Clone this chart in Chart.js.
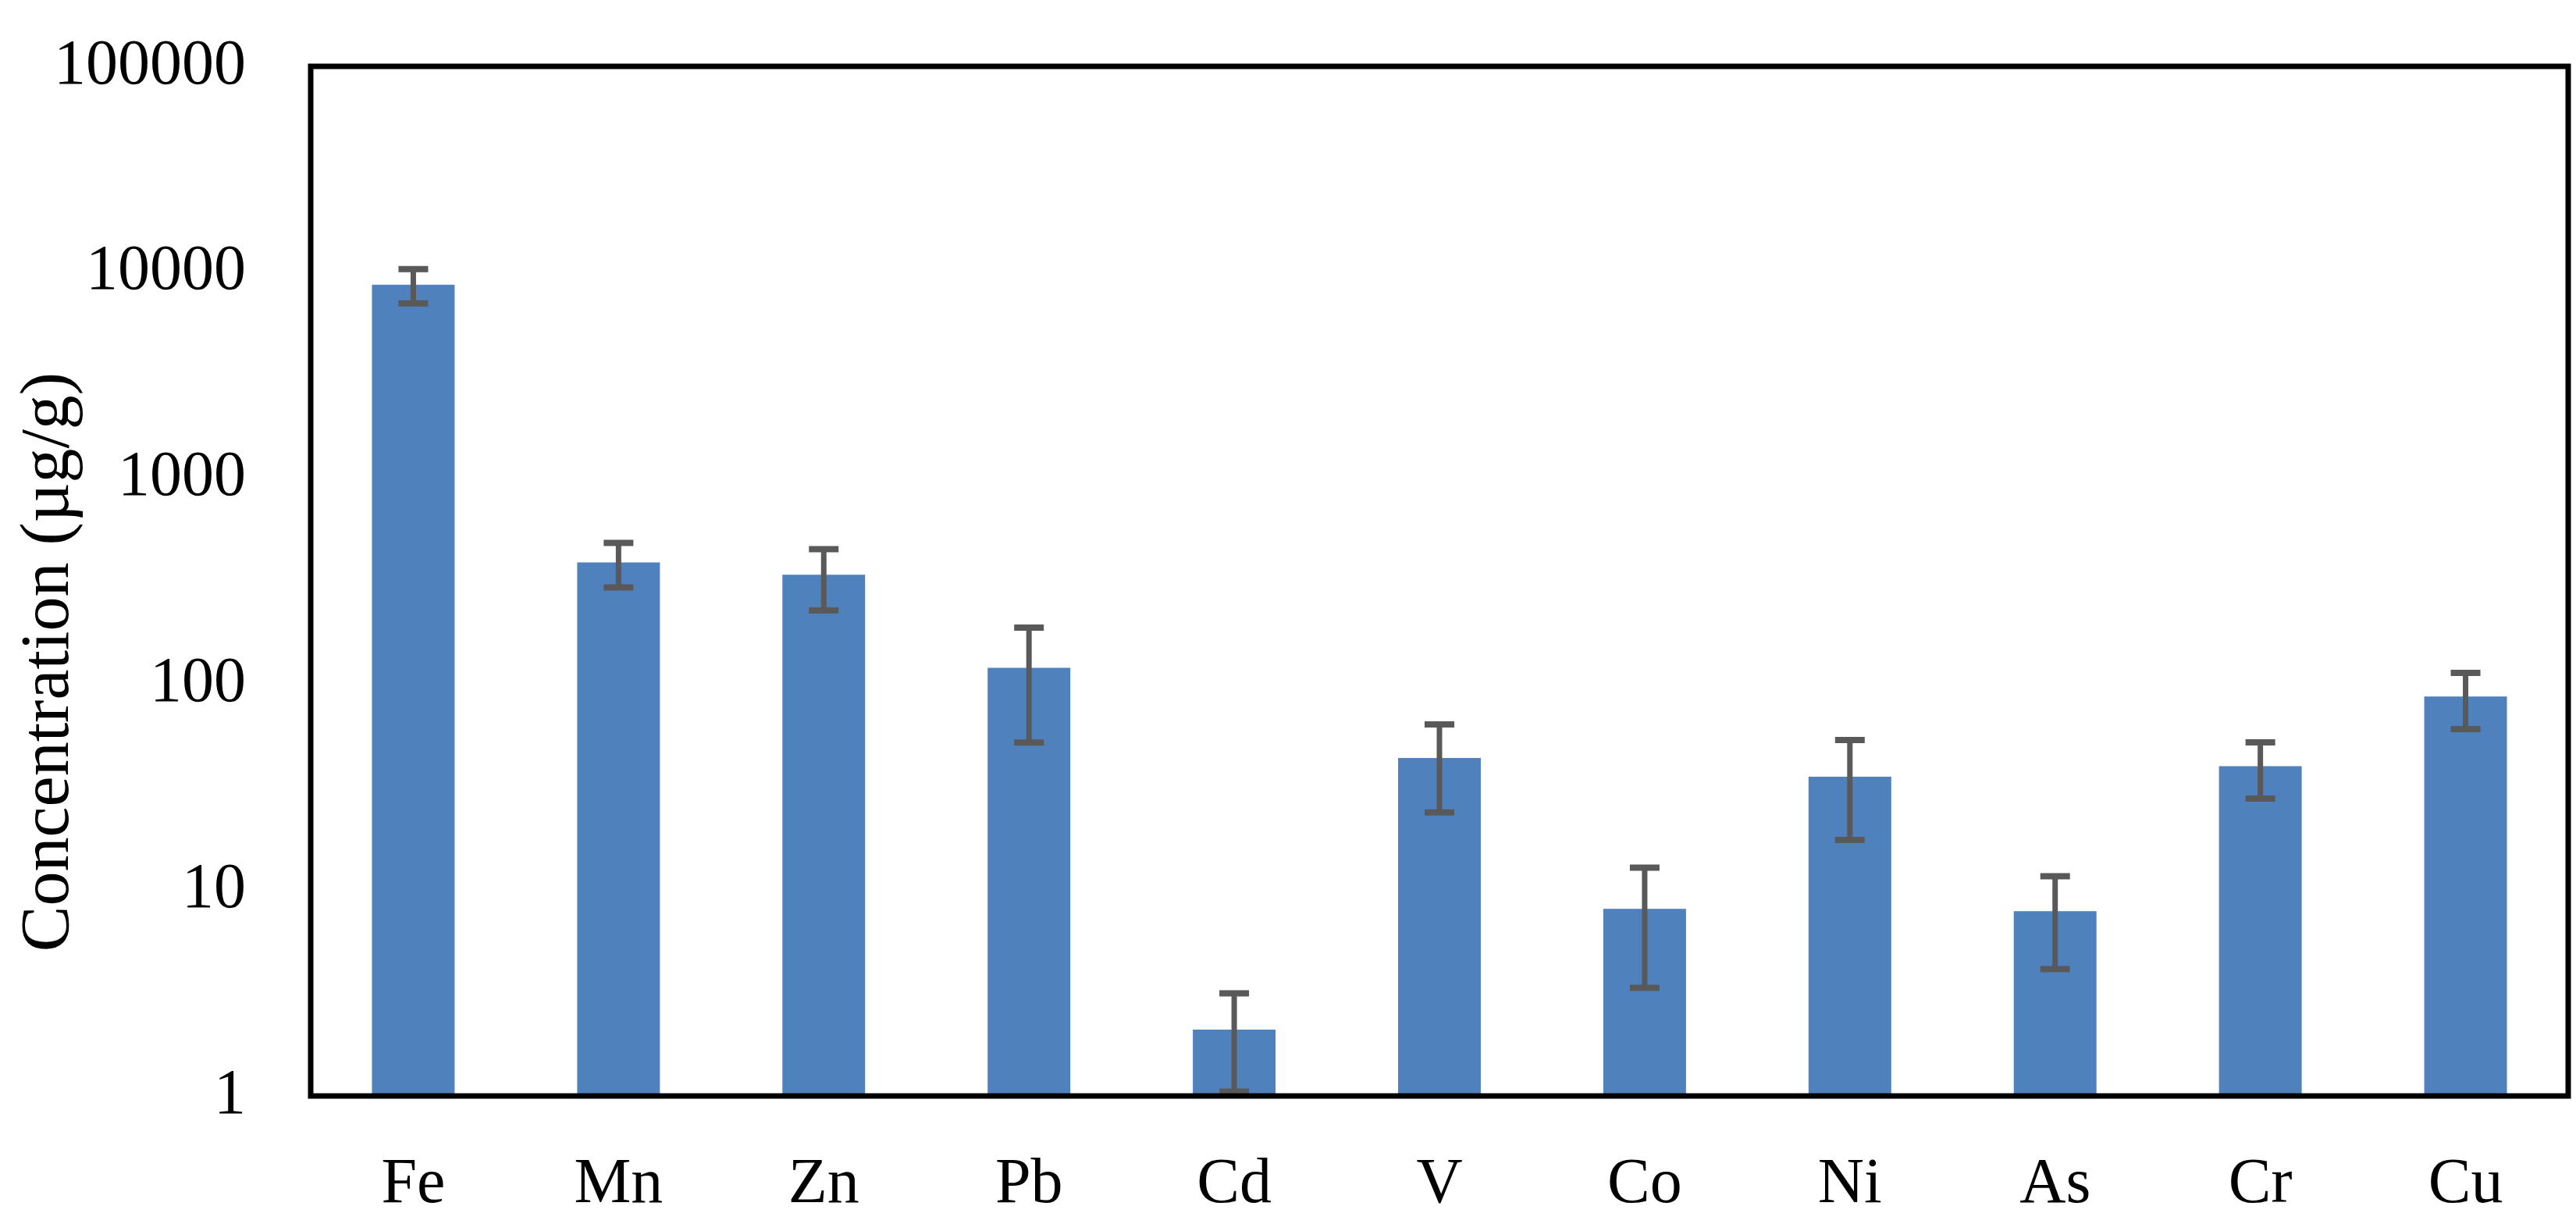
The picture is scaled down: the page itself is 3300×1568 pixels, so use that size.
<!DOCTYPE html>
<html>
<head>
<meta charset="utf-8">
<script src="https://cdn.jsdelivr.net/npm/chart.js@4.4.1/dist/chart.umd.min.js"></script>
<style>
  html, body { margin: 0; padding: 0; background: #ffffff; }
  #wrap { width: 3300px; height: 1568px; }
</style>
</head>
<body>
<div id="wrap"><canvas id="c" width="3300" height="1568"></canvas></div>
<script>
// ---- data ----
const categories = ['Fe', 'Mn', 'Zn', 'Pb', 'Cd', 'V', 'Co', 'Ni', 'As', 'Cr', 'Cu'];
const meanValues = [8700, 390, 340, 120, 2.1, 43.8, 8.1, 35.5, 7.9, 40, 87];
const sdValues = [1650, 95, 112, 68, 1.05, 20, 4.75, 18, 3.77, 12.2, 26.5];
const yTickValues = [1, 10, 100, 1000, 10000, 100000];
const yAxisTitle = 'Concentration (µg/g)';

const FONT = "'Liberation Serif', 'Times New Roman', serif";

const errorBarPlugin = {
  id: 'errorBars',
  afterDatasetsDraw(chart) {
    const ctx = chart.ctx;
    const y = chart.scales.y;
    const meta = chart.getDatasetMeta(0);
    ctx.save();
    ctx.strokeStyle = '#595959';
    ctx.lineCap = 'butt';
    meta.data.forEach((bar, i) => {
      const m = meanValues[i], s = sdValues[i];
      const hi = y.getPixelForValue(m + s);
      const lo = y.getPixelForValue(Math.max(m - s, 1e-6));
      const x = bar.x;
      const half = 19;
      ctx.lineWidth = 7;
      ctx.beginPath();
      ctx.moveTo(x, hi); ctx.lineTo(x, lo);
      ctx.stroke();
      ctx.lineWidth = 8;
      ctx.beginPath();
      ctx.moveTo(x - half, hi); ctx.lineTo(x + half, hi);
      ctx.moveTo(x - half, lo); ctx.lineTo(x + half, lo);
      ctx.stroke();
    });
    ctx.restore();
  }
};

const frameAndTitlePlugin = {
  id: 'frameAndTitle',
  afterDraw(chart) {
    const ctx = chart.ctx;
    const a = chart.chartArea;
    ctx.save();
    ctx.strokeStyle = '#000000';
    ctx.lineWidth = 7;
    ctx.strokeRect(a.left, a.top, a.right - a.left, a.bottom - a.top);
    // y axis title
    ctx.fillStyle = '#000000';
    ctx.font = '88px ' + FONT;
    ctx.textAlign = 'center';
    ctx.textBaseline = 'middle';
    ctx.translate(64, 848);
    ctx.rotate(-Math.PI / 2);
    ctx.fillText(yAxisTitle, 0, 0);
    ctx.restore();
  }
};

new Chart(document.getElementById('c'), {
  type: 'bar',
  data: {
    labels: categories,
    datasets: [{
      data: meanValues,
      backgroundColor: '#4f81bd',
      borderWidth: 0,
      barPercentage: 0.403,
      categoryPercentage: 1.0
    }]
  },
  options: {
    responsive: false,
    animation: false,
    devicePixelRatio: 1,
    layout: { padding: { left: 0, top: 85, right: 10, bottom: 0 } },
    plugins: {
      legend: { display: false },
      tooltip: { enabled: false }
    },
    scales: {
      x: {
        grid: { display: false, drawTicks: false },
        border: { display: false },
        ticks: {
          color: '#000000',
          font: { family: FONT, size: 82 },
          padding: 65,
          maxRotation: 0
        },
        afterFit(scale) { scale.height = 164; }
      },
      y: {
        type: 'logarithmic',
        min: 1,
        max: 100000,
        grid: { display: false, drawTicks: true, tickLength: 75 },
        border: { display: false },
        afterBuildTicks(scale) {
          scale.ticks = yTickValues.map(v => ({ value: v }));
        },
        ticks: {
          color: '#000000',
          font: { family: FONT, size: 82 },
          padding: 8,
          callback: (v) => String(v)
        },
        afterFit(scale) { scale.width = 398; }
      }
    }
  },
  plugins: [errorBarPlugin, frameAndTitlePlugin]
});
</script>
</body>
</html>
